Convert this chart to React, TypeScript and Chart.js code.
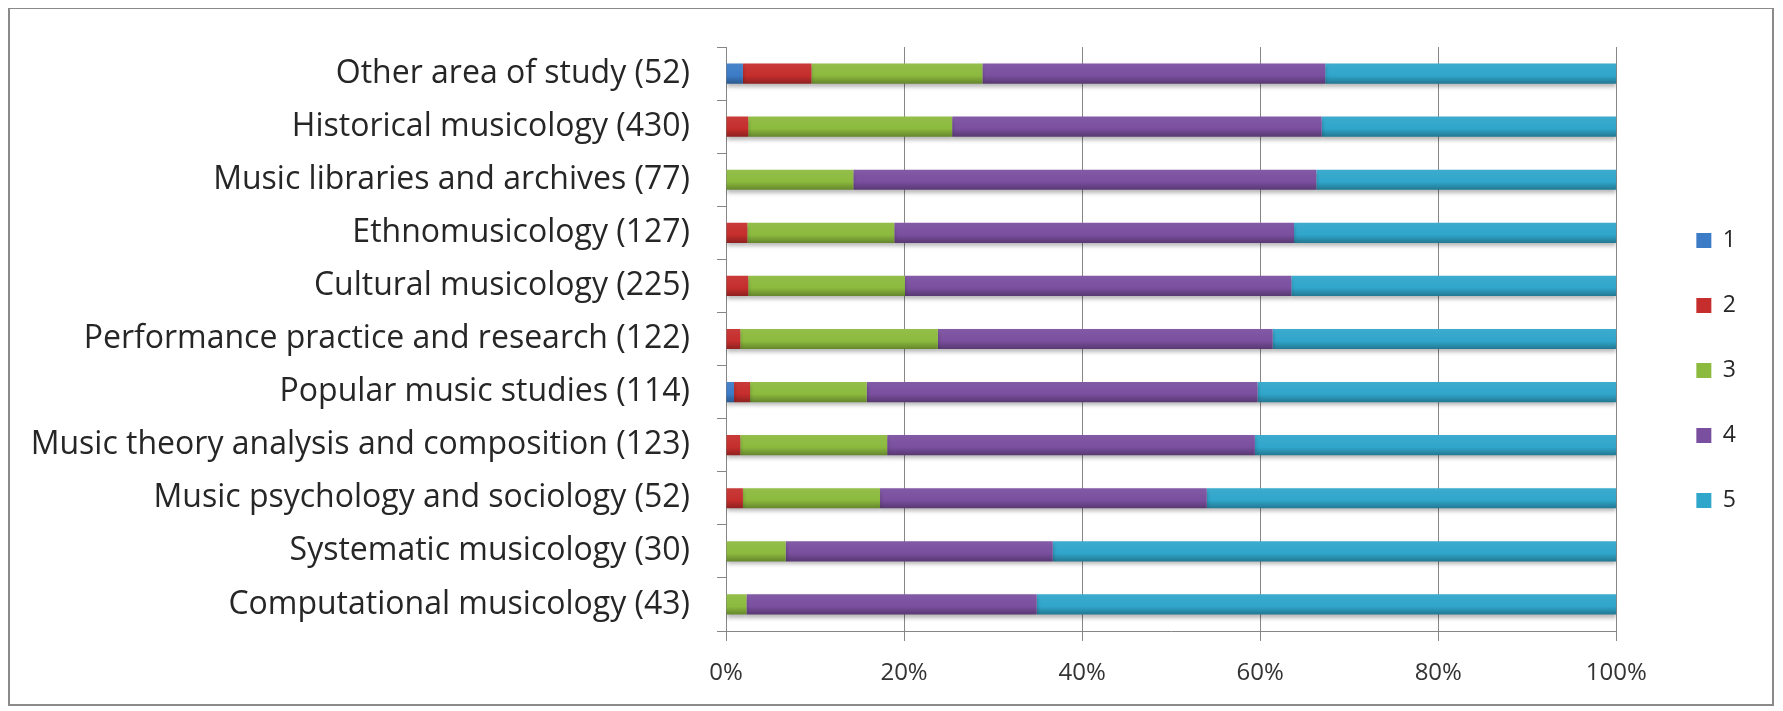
import React, { useEffect, useRef } from "react";
import { Chart, registerables } from "chart.js";

Chart.register(...registerables);

const categories = [
  "Other area of study (52)",
  "Historical musicology (430)",
  "Music libraries and archives (77)",
  "Ethnomusicology (127)",
  "Cultural musicology (225)",
  "Performance practice and research (122)",
  "Popular music studies (114)",
  "Music theory analysis and composition (123)",
  "Music psychology and sociology (52)",
  "Systematic musicology (30)",
  "Computational musicology (43)",
];

const seriesNames = ["1", "2", "3", "4", "5"];

const series1 = [1.9, 0, 0, 0, 0, 0, 0.9, 0, 0, 0, 0];
const series2 = [7.7, 2.5, 0, 2.4, 2.5, 1.6, 1.8, 1.6, 1.9, 0, 0];
const series3 = [19.2, 22.9, 14.3, 16.5, 17.6, 22.2, 13.1, 16.5, 15.4, 6.7, 2.3];
const series4 = [38.5, 41.5, 52.0, 44.9, 43.4, 37.6, 43.9, 41.3, 36.7, 30.0, 32.6];
const series5 = [32.7, 33.1, 33.7, 36.2, 36.5, 38.6, 40.3, 40.6, 46.0, 63.3, 65.1];

const xTickValues = [0, 20, 40, 60, 80, 100];

const seriesColors = ["#3C7CC6", "#C52E2C", "#8CBA3E", "#7A4F9F", "#30A6CB"];

function adjust(hex: string, f: number): string {
  const n = parseInt(hex.slice(1), 16);
  const r = (n >> 16) & 255, g = (n >> 8) & 255, b = n & 255;
  const m = (v: number) => {
    const out = f >= 0 ? v + (255 - v) * f : v * (1 + f);
    return Math.max(0, Math.min(255, Math.round(out)));
  };
  return `rgb(${m(r)},${m(g)},${m(b)})`;
}

function barFill(c: any, color: string): any {
  if (!c || c.type !== "data") return color;
  const chart = c.chart;
  const ys = chart.scales && chart.scales.y;
  if (!ys) return color;
  const yc = ys.getPixelForValue(c.dataIndex);
  if (!isFinite(yc)) return color;
  const half = 10;
  const g = chart.ctx.createLinearGradient(0, yc - half, 0, yc + half);
  g.addColorStop(0, adjust(color, 0.06));
  g.addColorStop(0.6, color);
  g.addColorStop(1, adjust(color, -0.28));
  return g;
}

const shadowPlugin = {
  id: "barShadow",
  beforeDatasetsDraw(chart: any) {
    const ctx = chart.ctx;
    ctx.save();
    ctx.shadowColor = "rgba(0,0,0,0.28)";
    ctx.shadowBlur = 4;
    ctx.shadowOffsetY = 3;
  },
  afterDatasetsDraw(chart: any) {
    chart.ctx.restore();
  },
};

export default function App() {
  const canvasRef = useRef<HTMLCanvasElement>(null);

  useEffect(() => {
    document.documentElement.style.overflow = "hidden";
    document.body.style.overflow = "hidden";
    const allSeries = [series1, series2, series3, series4, series5];
    const chart = new Chart(canvasRef.current as HTMLCanvasElement, {
      type: "bar",
      data: {
        labels: categories,
        datasets: allSeries.map((d, i) => ({
          label: seriesNames[i],
          data: d,
          backgroundColor: (c: any) => barFill(c, seriesColors[i]),
          borderWidth: 0,
          xAxisID: "x",
          yAxisID: "y",
          barPercentage: 0.38,
          categoryPercentage: 1,
        })),
      },
      plugins: [shadowPlugin],
      options: {
        indexAxis: "y",
        animation: false,
        responsive: true,
        maintainAspectRatio: false,
        layout: { padding: { top: 38, right: 26, bottom: 10, left: 0 } },
        plugins: {
          tooltip: { enabled: false },
          legend: {
            display: true,
            position: "right",
            align: "center",
            labels: {
              boxWidth: 15,
              boxHeight: 15,
              padding: 42,
              color: "#262626",
              font: { family: "'Open Sans'", size: 23 },
              generateLabels: (ch: any) =>
                ch.data.datasets.map((ds: any, i: number) => ({
                  text: ds.label,
                  fillStyle: seriesColors[i],
                  strokeStyle: seriesColors[i],
                  lineWidth: 0,
                  hidden: false,
                  datasetIndex: i,
                  fontColor: "#262626",
                })),
            },
          },
        },
        scales: {
          x: {
            type: "linear",
            position: "bottom",
            stacked: true,
            min: 0,
            max: 100,
            afterBuildTicks: (s: any) => {
              s.ticks = xTickValues.map((v) => ({ value: v }));
            },
            afterFit: (s: any) => {
              s.height = 63;
            },
            grid: {
              color: "#868686",
              lineWidth: 1,
              drawTicks: true,
              tickLength: 10,
            },
            border: { display: true, color: "#868686", width: 1 },
            ticks: {
              padding: 18,
              color: "#333333",
              font: { family: "'Open Sans'", size: 24 },
              callback: (v: any) => `${v}%`,
            },
          },
          y: {
            type: "category",
            position: "left",
            stacked: true,
            offset: true,
            afterFit: (s: any) => {
              s.width = 716;
              s.paddingTop = 0;
              s.paddingBottom = 0;
            },
            grid: {
              offset: true,
              drawOnChartArea: false,
              drawTicks: true,
              tickLength: 9,
              color: "#868686",
            },
            border: { display: true, color: "#868686", width: 1 },
            ticks: {
              padding: 27,
              color: "#262626",
              font: { family: "'Open Sans'", size: 32 },
              autoSkip: false,
            },
          },
          gap: {
            type: "linear",
            position: "right",
            display: true,
            grid: { display: false, drawTicks: false },
            ticks: { display: false },
            border: { display: false },
            afterFit: (s: any) => {
              s.width = 38;
              s.paddingTop = 0;
              s.paddingBottom = 0;
            },
          },
        },
      } as any,
    });
    return () => chart.destroy();
  }, []);

  return (
    <div
      style={{
        position: "relative",
        width: 1762,
        height: 695,
        border: "2px solid #8a8a8a",
        marginTop: -1,
        background: "#ffffff",
      }}
    >
      <canvas ref={canvasRef} />
    </div>
  );
}
